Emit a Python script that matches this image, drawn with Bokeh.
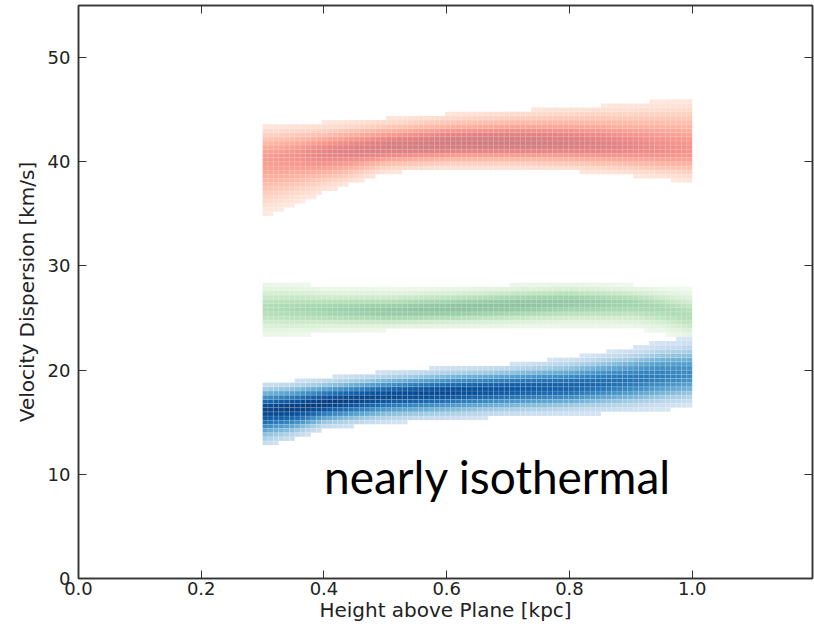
import numpy as np
from bokeh.plotting import figure
from bokeh.models import (LinearAxis, FixedTicker, Label, Range1d, ColumnDataSource,
                          PrintfTickFormatter, CustomJSTickFormatter)
from bokeh.palettes import Reds256, Greens256, Blues256
from bokeh.embed import file_html
from bokeh.resources import INLINE

# ---- data ----
x_knots = [0.30, 0.35, 0.40, 0.50, 0.60, 0.70, 0.80, 0.90, 0.95, 1.00]

red_center = [40.3, 40.6, 40.9, 41.4, 41.7, 41.8, 41.7, 41.4, 41.2, 41.1]
red_upper = [43.8, 43.8, 43.8, 44.2, 44.6, 44.9, 45.2, 45.6, 45.9, 46.2]
red_lower = [34.6, 35.8, 37.0, 38.9, 39.3, 39.3, 39.1, 38.6, 38.3, 37.9]
red_peak = [0.55, 0.60, 0.70, 0.80, 0.85, 0.85, 0.80, 0.70, 0.65, 0.60]

green_center = [26.0, 25.9, 25.8, 25.7, 25.9, 26.2, 26.5, 26.4, 26.0, 25.3]
green_upper = [28.6, 28.4, 28.0, 27.8, 27.9, 28.2, 28.4, 28.2, 28.0, 27.8]
green_lower = [23.0, 23.2, 23.6, 23.8, 24.0, 24.1, 24.2, 24.0, 23.5, 22.6]
green_peak = [0.50, 0.55, 0.60, 0.70, 0.75, 0.75, 0.70, 0.60, 0.55, 0.50]

blue_center = [16.2, 16.4, 16.8, 17.5, 17.9, 18.2, 18.4, 19.0, 19.4, 19.6]
blue_upper = [18.8, 19.0, 19.3, 19.9, 20.3, 20.6, 21.2, 22.2, 22.8, 23.2]
blue_lower = [12.6, 13.3, 14.3, 14.9, 15.2, 15.5, 15.7, 15.9, 16.1, 16.4]
blue_peak = [0.92, 0.95, 0.95, 0.90, 0.90, 0.85, 0.80, 0.72, 0.68, 0.62]

x_ticks = [0.0, 0.2, 0.4, 0.6, 0.8, 1.0, 1.2]
y_ticks = [0, 10, 20, 30, 40, 50]

annotation = "nearly isothermal"
x_label = "Height above Plane [kpc]"
y_label = "Velocity Dispersion [km/s]"

# ---- histogram binning ----
x_start, x_end, n_xbins = 0.30, 1.00, 80
dx = (x_end - x_start) / n_xbins
dy = 0.4


def band_cells(center, upper, lower, peak, palette):
    xs, ys, cols = [], [], []
    for i in range(n_xbins):
        xc = x_start + (i + 0.5) * dx
        c = np.interp(xc, x_knots, center)
        up = np.interp(xc, x_knots, upper)
        lo = np.interp(xc, x_knots, lower)
        pk = np.interp(xc, x_knots, peak)
        j0 = int(np.floor(lo / dy))
        j1 = int(np.ceil(up / dy))
        for j in range(j0, j1 + 1):
            yc = (j + 0.5) * dy
            if yc < lo or yc > up:
                continue
            d = yc - c
            s = (up - c) / 2.0 if d > 0 else (c - lo) / 2.0
            t = pk * np.exp(-0.5 * (d / s) ** 2)
            v = 0.08 + 0.92 * t
            idx = int(round((1 - v) * 255))
            idx = min(max(idx, 0), 255)
            xs.append(xc)
            ys.append(yc)
            cols.append(palette[idx])
    return ColumnDataSource(dict(x=xs, y=ys, c=cols))


p = figure(width=814, height=626, output_backend="svg", toolbar_location=None,
           x_range=Range1d(0, 1.196), y_range=Range1d(0, 55),
           min_border_left=78, min_border_right=2, min_border_top=5, min_border_bottom=48)
p.grid.visible = False
p.outline_line_color = "#333333"
p.outline_line_width = 1.5
p.background_fill_color = "white"
p.border_fill_color = "white"

for (cen, upp, low, pk, pal, alpha) in [
    (red_center, red_upper, red_lower, red_peak, Reds256, 0.55),
    (green_center, green_upper, green_lower, green_peak, Greens256, 0.5),
    (blue_center, blue_upper, blue_lower, blue_peak, Blues256, 1.0),
]:
    src = band_cells(cen, upp, low, pk, pal)
    p.rect(x="x", y="y", width=dx, height=dy, source=src, fill_color="c",
           fill_alpha=alpha, line_color="white", line_alpha=0.25, line_width=0.5)

tick_font = "DejaVu Sans"
for ax in [p.xaxis[0], p.yaxis[0]]:
    ax.major_tick_in = 8
    ax.major_tick_out = 0
    ax.minor_tick_line_color = None
    ax.axis_line_color = "#333333"
    ax.axis_line_width = 1.5
    ax.major_tick_line_color = "#333333"
    ax.major_label_text_font = tick_font
    ax.major_label_text_font_size = "18px"
    ax.major_label_text_color = "#222222"
    ax.axis_label_text_font = tick_font
    ax.axis_label_text_font_size = "20px"
    ax.axis_label_text_font_style = "normal"
    ax.axis_label_text_color = "#222222"

p.xaxis[0].ticker = FixedTicker(ticks=x_ticks[:-1])
p.xaxis[0].formatter = PrintfTickFormatter(format="%.1f")
p.yaxis[0].ticker = FixedTicker(ticks=y_ticks)
p.xaxis[0].axis_label = x_label
p.yaxis[0].axis_label = y_label
p.xaxis[0].major_label_standoff = 3
p.xaxis[0].axis_label_standoff = 0
p.yaxis[0].major_label_standoff = 8
p.yaxis[0].axis_label_standoff = 6

for loc, ticks in [("right", y_ticks), ("above", x_ticks)]:
    ax = LinearAxis(ticker=FixedTicker(ticks=ticks))
    ax.formatter = CustomJSTickFormatter(code="return '';")
    ax.major_tick_in = 8
    ax.major_tick_out = 0
    ax.minor_tick_line_color = None
    ax.major_label_text_font_size = "1px"
    ax.major_label_standoff = 0
    ax.axis_line_color = "#333333"
    ax.axis_line_width = 1.5
    ax.major_tick_line_color = "#333333"
    p.add_layout(ax, loc)

p.add_layout(Label(x=0.40, y=9.8, text=annotation, text_font="Lato",
                   text_font_size="46px", text_color="black",
                   text_baseline="alphabetic"))

open("out.html", "w").write(file_html(p, INLINE))
